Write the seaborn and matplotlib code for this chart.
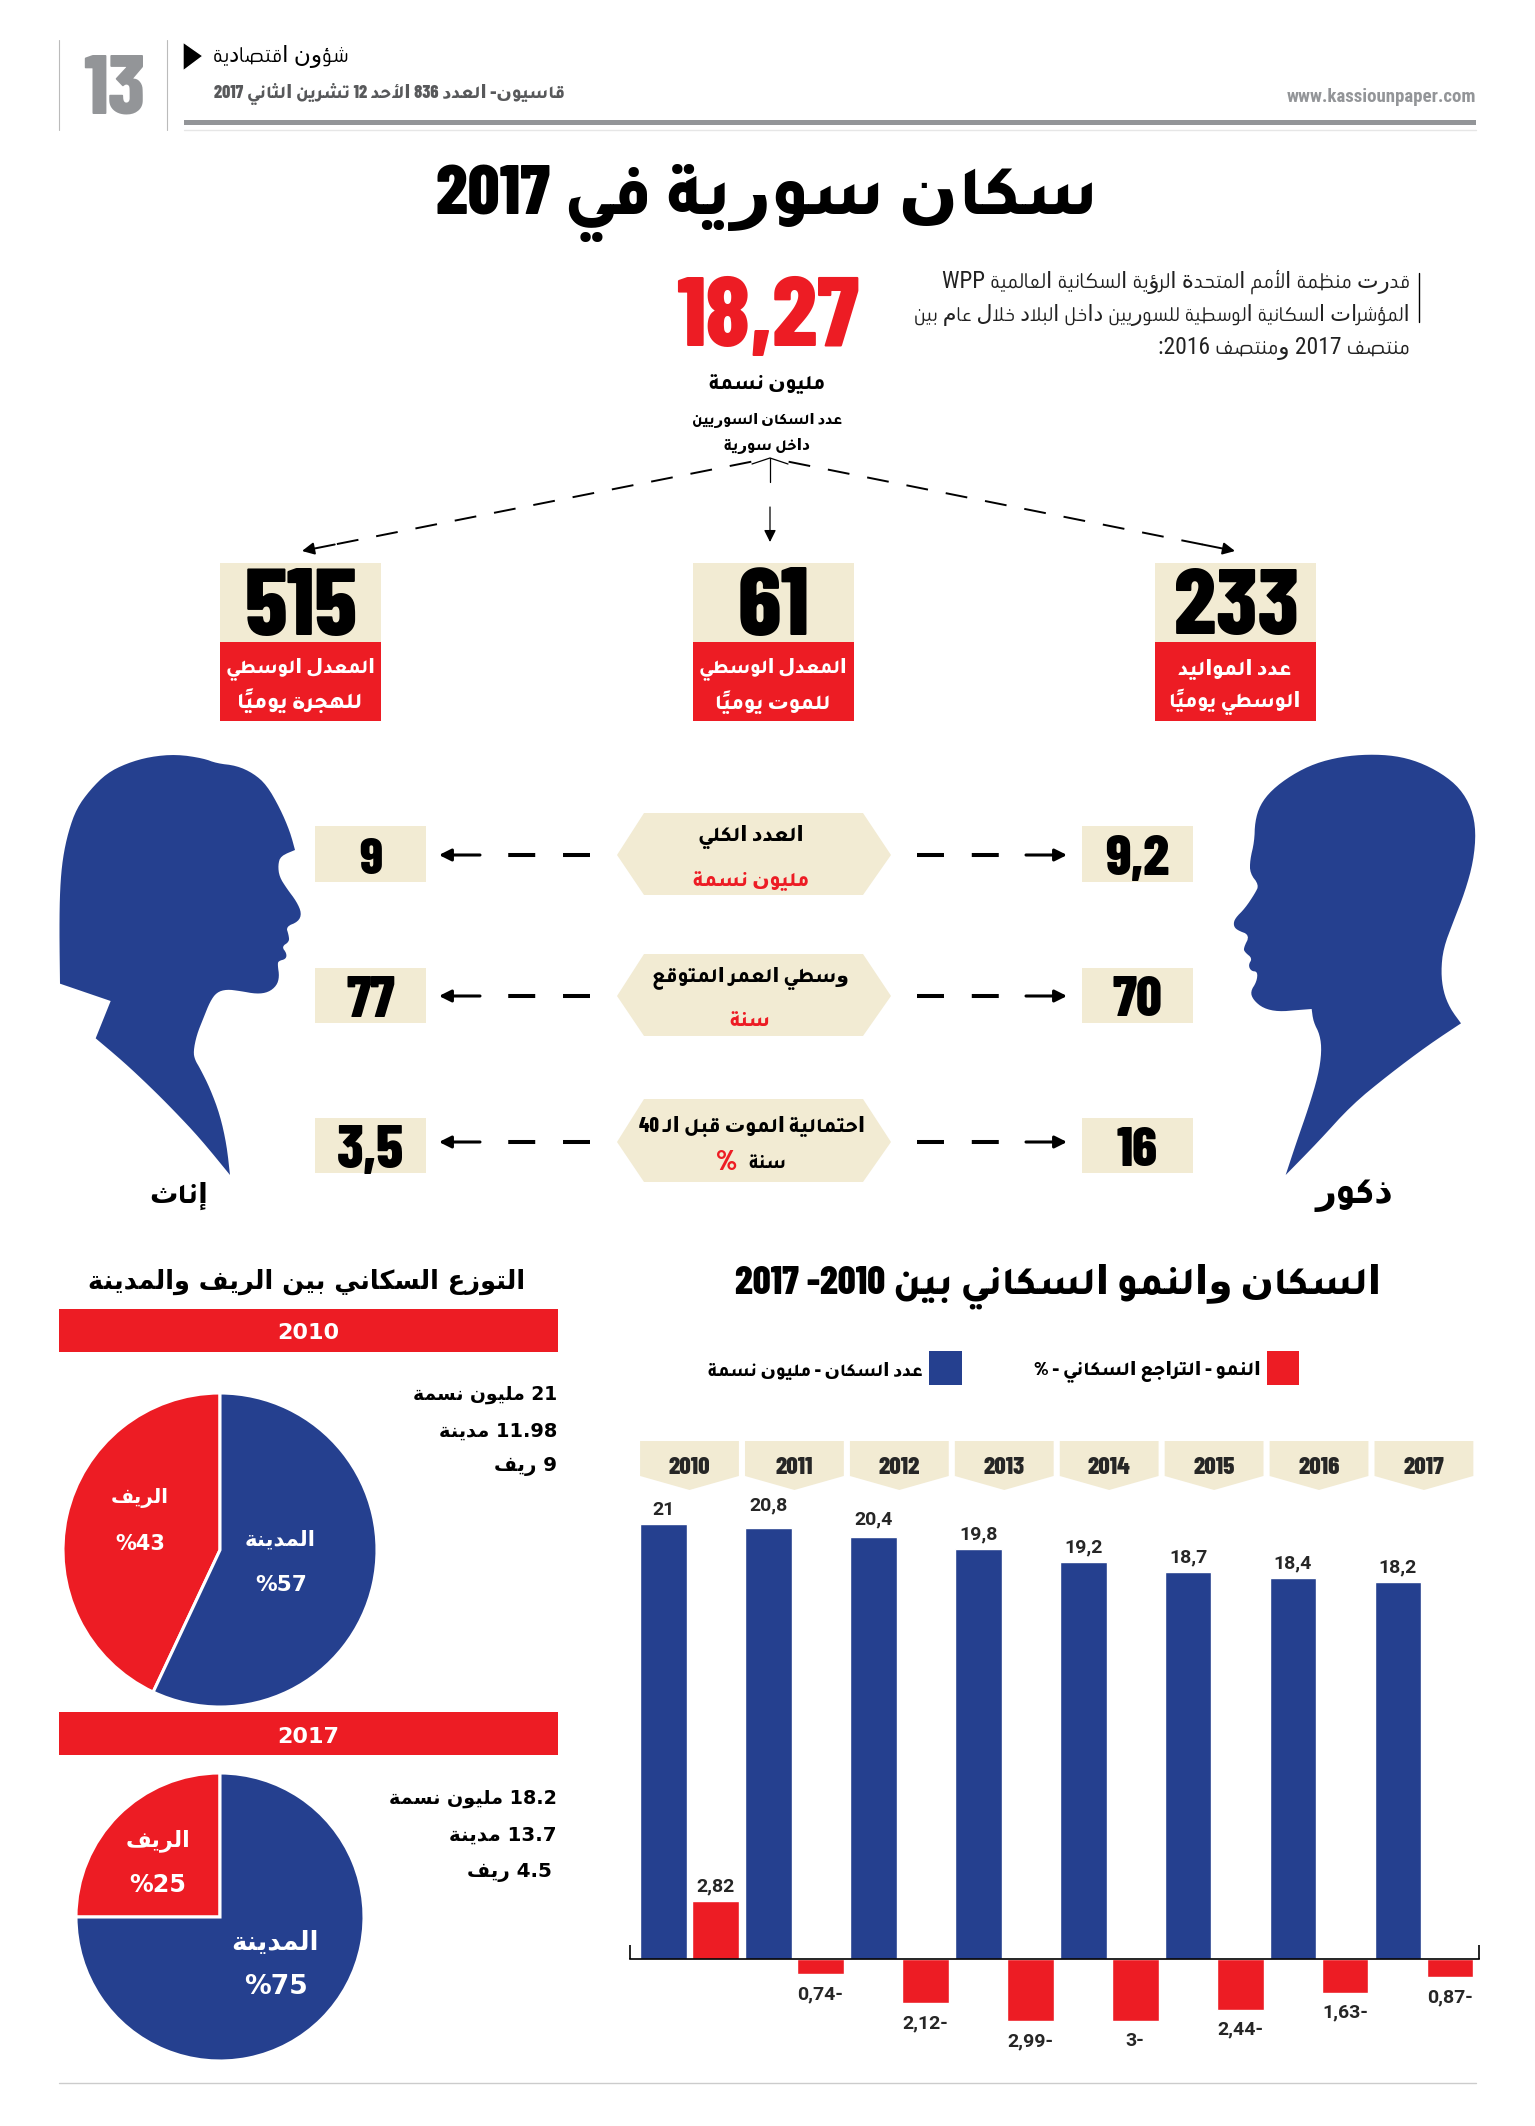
import re
import pandas as pd
import seaborn as sns
import matplotlib
matplotlib.use('Agg')
import matplotlib.pyplot as plt
from matplotlib import font_manager, transforms
from matplotlib.patches import Polygon, Rectangle

W, H = 1535, 2126
BLUE = '#25408F'
RED = '#ED1C24'
CREAM = '#F2EBD3'
GRAY = '#939598'

# data
years = ['2010', '2011', '2012', '2013', '2014', '2015', '2016', '2017']
population = [21, 20.8, 20.4, 19.8, 19.2, 18.7, 18.4, 18.2]
growth = [2.82, -0.74, -2.12, -2.99, -3, -2.44, -1.63, -0.87]
pie_2010 = [43, 57]
pie_2017 = [25, 75]
daily_numbers = ['515', '61', '233']
female_values = ['9', '77', '3,5']
male_values = ['9,2', '70', '16']

# --- arabic shaping, matplotlib has no text layout for it ---
AR_ORDER = 'ءآأؤإئابةتثجحخدذرزسشصضطظعغفقكلمنهوىي'
AR_SIZES = {'ء': 1}
for c in 'آأؤإادذرزوىة':
    AR_SIZES[c] = 2
FORMS = {}
code = 0xFE80
for c in AR_ORDER:
    n = AR_SIZES.get(c, 4)
    FORMS[c] = [chr(code + k) for k in range(n)]
    code += n
LAM_ALEF = {'آ': 0xFEF5, 'أ': 0xFEF7, 'إ': 0xFEF9, 'ا': 0xFEFB}
KASHIDA = 'ـ'
MARKS = set(chr(k) for k in range(0x064B, 0x0653))


def joins_next(c):
    return c == KASHIDA or (c in FORMS and len(FORMS[c]) == 4)


def joins_prev(c):
    return c == KASHIDA or (c in FORMS and len(FORMS[c]) >= 2)


def shape_run(s):
    out = []
    prev = ''
    i = 0
    while i < len(s):
        c = s[i]
        if c in MARKS:
            out.append(c)
            i += 1
            continue
        if c not in FORMS:
            out.append(c)
            prev = c
            i += 1
            continue
        j = i + 1
        while j < len(s) and s[j] in MARKS:
            j += 1
        nxt = s[j] if j < len(s) else ''
        after_prev = joins_next(prev) and joins_prev(c)
        if c == 'ل' and nxt in LAM_ALEF:
            out.append(chr(LAM_ALEF[nxt] + (1 if after_prev else 0)))
            prev = nxt
            i = j + 1
            continue
        before_next = joins_next(c) and joins_prev(nxt)
        f = FORMS[c]
        if len(f) == 1:
            out.append(f[0])
        elif len(f) == 2:
            out.append(f[1] if after_prev else f[0])
        elif after_prev and before_next:
            out.append(f[3])
        elif after_prev:
            out.append(f[1])
        elif before_next:
            out.append(f[2])
        else:
            out.append(f[0])
        prev = c
        i += 1
    return out


def visual(s):
    if not re.search('[\u0600-\u06FF]', s):
        return s
    tokens = re.findall(r'[A-Za-z0-9%][A-Za-z0-9.,%]*|[^A-Za-z0-9%]+', s)
    parts = []
    for tok in reversed(tokens):
        if re.match('[A-Za-z0-9%]', tok):
            parts.append(tok)
            continue
        clusters = []
        for ch in shape_run(tok):
            if ch in MARKS and clusters:
                clusters[-1] += ch
            else:
                clusters.append(ch)
        parts.append(''.join(reversed(clusters)))
    return ''.join(parts)


sns.set_theme(style='white')
installed = {f.name for f in font_manager.fontManager.ttflist}


def fonts(*names):
    return [n for n in names if n in installed] + ['DejaVu Sans']


TALL = fonts('Barlow Condensed', 'Tajawal')
THIN = fonts('Roboto Condensed', 'Beiruti')
WIDE = fonts()
plt.rcParams['font.family'] = TALL
plt.rcParams['font.weight'] = 'bold'

fig = plt.figure(figsize=(W / 100, H / 100), dpi=100)
renderer = fig.canvas.get_renderer()

# page layer in pixel coordinates
bg = fig.add_axes([0, 0, 1, 1])
bg.set_xlim(0, W)
bg.set_ylim(H, 0)
bg.axis('off')


def put(x, y, s, width=None, size=14, color='black', ha='center', family=TALL, weight=800):
    # va center sits a bit high for these fonts
    t = bg.text(x, y + 3, visual(s), ha=ha, va='center', fontsize=size, color=color, family=family, weight=weight)
    if width:
        t.set_fontsize(size * width / t.get_window_extent(renderer).width)
    return t


def box(x0, y0, x1, y1, color):
    bg.add_patch(Rectangle((x0, y0), x1 - x0, y1 - y0, facecolor=color, edgecolor='none'))


def arrow_head(x0, y0, x1, y1, lw):
    bg.annotate('', xy=(x1, y1), xytext=(x0, y0),
                arrowprops=dict(arrowstyle='-|>,head_length=0.6,head_width=0.3', lw=lw, color='black',
                                shrinkA=0, shrinkB=0))


def smooth(pts, keep, rounds=2):
    for _ in range(rounds):
        new = []
        for i, p in enumerate(pts):
            q = pts[(i + 1) % len(pts)]
            if p in keep:
                new.append(p)
            else:
                new.append((0.75 * p[0] + 0.25 * q[0], 0.75 * p[1] + 0.25 * q[1]))
            if q not in keep:
                new.append((0.25 * p[0] + 0.75 * q[0], 0.25 * p[1] + 0.75 * q[1]))
        pts = new
    return pts


# header
bg.plot([59, 59], [40, 130], color='#BBBBBB', lw=0.8)
bg.plot([167, 167], [40, 130], color='#BBBBBB', lw=0.8)
put(114, 89, '13', width=62, size=50, color=GRAY)
bg.add_patch(Polygon([(183, 42), (203, 56), (183, 71)], facecolor='black'))
put(281, 53, 'شؤون اقتصادية', width=136, weight='normal', family=THIN)
put(390, 91, 'قاسيون- العدد 836 الأحد 12 تشرين الثاني 2017', width=351, color='#58595B')
put(1381, 94, 'www.kassiounpaper.com', width=190, color=GRAY, family=THIN)
box(184, 120, 1476, 125, GRAY)
bg.plot([184, 1476], [130, 130], color='#E6E6E6', lw=1)

put(767, 200, 'سكان سورية في 2017', width=662, size=40)

# intro
para = ['قدرت منظمة الأمم المتحدة الرؤية السكانية العالمية WPP',
        'المؤشرات السكانية الوسطية للسوريين داخل البلاد خلال عام بين',
        'منتصف 2017 ومنتصف 2016:']
para_w = [472, 500, 253]
for y, line, w in zip([279, 312, 346], para, para_w):
    put(1410, y, line, width=w, ha='right', weight='normal', family=THIN, color='#222222')
bg.plot([1419, 1419], [273, 322], color='black', lw=1)

put(768, 318, '18,27', width=183, size=60, color=RED)
put(767, 381, 'مليون نسمة', width=116)
put(767, 418, 'عدد السكان السوريين', width=150)
put(767, 443, 'داخل سورية', width=86)

# dashed lines from the total
for x1 in [302, 1235]:
    x0 = 770 + (x1 - 770) * 0.04
    xe = 770 + (x1 - 770) * 0.93
    y0 = 458 + 93 * 0.04
    ye = 458 + 93 * 0.93
    bg.plot([x0, xe], [y0, ye], color='black', lw=1.4, ls=(0, (11.3, 9.3)))
    arrow_head(xe, ye, x1, 551, 1.4)
bg.plot([752, 770, 788], [464, 458, 464], color='black', lw=0.9)
bg.plot([770, 770], [458, 482], color='black', lw=0.9)
arrow_head(770, 507, 770, 542, 0.9)

# daily boxes
box_x = [220, 693, 1155]
num_w = [113, 72, 125]
box_text = [('المعدل الوسطي', 149, 'للهجرة يومياً', 126),
            ('المعدل الوسطي', 148, 'للموت يومياً', 115),
            ('عدد المواليد', 113, 'الوسطي يومياً', 131)]
for x, num, w, (l1, w1, l2, w2) in zip(box_x, daily_numbers, num_w, box_text):
    box(x, 563, x + 161, 642, CREAM)
    box(x, 642, x + 161, 721, RED)
    put(x + 81, 607, num, width=w, size=50)
    put(x + 80, 666, l1, width=w1, color='white')
    put(x + 80, 699, l2, width=w2, color='white')

# silhouettes
woman = [(690, 1290), (680, 1200), (660, 1110), (630, 1030), (600, 970), (585, 945), (580, 920), (590, 870),
         (610, 820), (630, 770), (650, 742), (680, 733), (720, 738), (770, 747), (805, 742), (830, 722),
         (838, 695), (833, 660), (835, 648), (858, 642), (860, 625), (845, 605), (868, 590), (866, 570),
         (858, 545), (895, 530), (905, 505), (890, 470), (860, 430), (838, 395), (834, 360), (842, 333),
         (885, 315), (870, 260), (840, 190), (800, 120), (760, 85), (710, 62), (650, 55), (610, 40),
         (530, 28), (450, 35), (380, 55), (320, 85), (270, 135), (230, 190), (205, 260), (188, 340),
         (180, 430), (178, 550), (180, 716), (332, 768), (287, 880), (370, 950), (450, 1025), (520, 1095),
         (600, 1180)]
man = [(572, 1290), (605, 1190), (640, 1090), (670, 990), (680, 920), (675, 870), (655, 830), (650, 792),
       (610, 795), (550, 800), (505, 790), (475, 765), (466, 740), (485, 710), (488, 680), (468, 678),
       (460, 660), (472, 640), (450, 622), (445, 610), (465, 570), (425, 555), (415, 540), (420, 520),
       (450, 490), (480, 445), (492, 420), (465, 385), (465, 345), (478, 290), (480, 230), (495, 180),
       (530, 135), (590, 90), (660, 55), (740, 35), (820, 28), (900, 32), (970, 50), (1040, 85),
       (1095, 130), (1130, 190), (1143, 260), (1135, 350), (1110, 440), (1075, 530), (1045, 610),
       (1038, 680), (1045, 740), (1065, 790), (1098, 835), (1000, 900), (880, 990), (770, 1080), (670, 1190)]
woman = smooth(woman, [(690, 1290), (885, 315), (180, 716), (332, 768), (287, 880)])
man = smooth(man, [(572, 1290), (1098, 835), (650, 792)])
bg.add_patch(Polygon([(x / 3, y / 3 + 745) for x, y in woman], facecolor=BLUE, edgecolor='none'))
bg.add_patch(Polygon([(x / 3 + 1095, y / 3 + 745) for x, y in man], facecolor=BLUE, edgecolor='none'))
put(179, 1193, 'إناث', width=59, size=30)
put(1354, 1193, 'ذكور', width=78, size=30)

# comparison rows
row_y = [855, 996, 1142]
hex_y = [(813, 895), (954, 1036), (1099, 1182)]
num_y = [(826, 882), (968, 1023), (1118, 1173)]
female_w = [23, 49, 67]
male_w = [64, 50, 41]
for y, (h0, h1), (b0, b1), fv, mv, fw, mw in zip(row_y, hex_y, num_y, female_values, male_values, female_w, male_w):
    bg.add_patch(Polygon([(617, y), (644, h0), (863, h0), (891, y), (863, h1), (644, h1)],
                         facecolor=CREAM, edgecolor='none'))
    box(315, b0, 426, b1, CREAM)
    box(1082, b0, 1193, b1, CREAM)
    put(370.5, (b0 + b1) / 2 + 3, fv, width=fw, size=30)
    put(1137, (b0 + b1) / 2 + 3, mv, width=mw, size=30)
    for xa, xb, xs, xt in [(590, 508, 480, 439), (917, 1000, 1026, 1067)]:
        bg.plot([xa, xb], [y, y], color='black', lw=2.9, ls=(0, (6.7, 6.9)))
        arrow_head(xs, y, xt, y, 2.2)

put(751, 834, 'العدد الكلي', width=105)
put(751, 878, 'مليون نسمة', width=116, color=RED)
put(751, 976, 'وسطي العمر المتوقع', width=197)
put(750, 1018, 'سنة', width=41, color=RED)
put(752, 1123, 'احتمالية الموت قبل الـ 40', width=226)
put(767, 1160, 'سنة', width=38)
put(727, 1160, '%', width=21, color=RED)

# rural / urban pies
put(307, 1279, 'التوزع السكاني بين الريف والمدينة', width=439, family=WIDE, weight='bold')


def wide(x, y, s, width=None, size=14, color='black', ha='center'):
    return put(x, y, s, width=width, size=size, color=color, ha=ha, family=WIDE, weight='bold')


def draw_pie(values, cx, cy, r):
    pie_ax = fig.add_axes([(cx - r) / W, 1 - (cy + r) / H, 2 * r / W, 2 * r / H], zorder=-1)
    pie_ax.pie(values, colors=[RED, BLUE], startangle=90,
               wedgeprops=dict(edgecolor='white', linewidth=2.2, clip_on=False))
    pie_ax.set_xlim(-1, 1)
    pie_ax.set_ylim(-1, 1)
    return pie_ax


box(59, 1309, 558, 1352, RED)
wide(308, 1330, '2010', size=16, color='white')
draw_pie(pie_2010, 220, 1550, 157)
wide(140, 1495, 'الريف', width=58, color='white')
wide(140, 1541, '%' + str(pie_2010[0]), width=50, color='white')
wide(280, 1536, 'المدينة', width=72, color='white')
wide(281, 1582, '%' + str(pie_2010[1]), width=52, color='white')
for y, line, w in zip([1391, 1428, 1464], ['21 مليون نسمة', '11.98 مدينة', '9 ريف'], [145, 119, 63]):
    wide(557, y, line, width=w, ha='right')

box(59, 1712, 558, 1755, RED)
wide(308, 1734, '2017', size=16, color='white')
draw_pie(pie_2017, 220, 1917, 144)
wide(158, 1838, 'الريف', width=65, color='white')
wide(158, 1882, '%' + str(pie_2017[0]), width=57, color='white')
wide(275, 1940, 'المدينة', width=88, color='white')
wide(276, 1984, '%' + str(pie_2017[1]), width=64, color='white')
for y, line, w, xr in zip([1796, 1832, 1869], ['18.2 مليون نسمة', '13.7 مدينة', '4.5 ريف'], [169, 108, 85],
                          [557, 557, 552]):
    wide(xr, y, line, width=w, ha='right')

# bars
left, right, top, bottom = 630, 1478.5, 1430, 2070
base_y, px_per_unit = 1959, 20.7
ax = fig.add_axes([left / W, 1 - bottom / H, (right - left) / W, (bottom - top) / H])
ax.patch.set_alpha(0)
df = pd.DataFrame({
    'year': years * 2,
    'value': population + growth,
    'series': ['population'] * len(years) + ['growth'] * len(years),
})
sns.barplot(data=df, x='year', y='value', hue='series', palette=[BLUE, RED], saturation=1,
            width=0.992, gap=0.1, legend=False, ax=ax)
xlo, xhi = -0.567, 7.52
ax.set_xlim(xlo, xhi)
ax.set_ylim((base_y - bottom) / px_per_unit, (base_y - top) / px_per_unit)
ax.set_xlabel('')
ax.set_ylabel('')
ax.set_yticks([])
ax.set_xticks([xlo, xhi])
ax.set_xticklabels(['', ''])
ax.tick_params(axis='x', direction='in', length=10, width=1.2, color='black', bottom=True)
for name in ['top', 'left', 'right']:
    ax.spines[name].set_visible(False)
ax.spines['bottom'].set_position(('data', 0))
ax.spines['bottom'].set_color('black')
ax.spines['bottom'].set_linewidth(1.2)


def bar_text(v):
    txt = f'{abs(v):g}'.replace('.', ',')
    return txt + '-' if v < 0 else txt


LABEL_FONT = fonts('Roboto')
labels_a = ax.bar_label(ax.containers[0], labels=[bar_text(v) for v in population], padding=4,
                        fontsize=14, fontweight='bold', family=LABEL_FONT)
labels_b = ax.bar_label(ax.containers[1], labels=[bar_text(v) for v in growth], padding=8,
                        fontsize=14, fontweight='bold', family=LABEL_FONT)
labels_a[1].xyann = (0, 10)
labels_a[2].xyann = (0, 6)
labels_b[0].xyann = (0, 4)

# year tabs above the bars
tab_tr = transforms.blended_transform_factory(ax.transData, bg.transData)
for i, year in enumerate(years):
    bg.add_patch(Polygon([(i - 0.471, 1441), (i + 0.471, 1441), (i + 0.471, 1476), (i, 1490), (i - 0.471, 1476)],
                         transform=tab_tr, facecolor=CREAM, edgecolor='none', clip_on=False))
    bg.text(i, 1468, year, transform=tab_tr, ha='center', va='center', fontsize=18, weight=800, clip_on=False)

put(1058, 1283, 'السكان والنمو السكاني بين 2010- 2017', width=645, size=30)
box(1267, 1351, 1299, 1385, RED)
box(929, 1351, 962, 1385, BLUE)
put(1261, 1368, 'النمو - التراجع السكاني - %', width=227, ha='right')
put(923, 1368, 'عدد السكان - مليون نسمة', width=215, ha='right')

bg.plot([59, 1476], [2083, 2083], color='#CCCCCC', lw=1)

fig.savefig('out.png', dpi=100)
